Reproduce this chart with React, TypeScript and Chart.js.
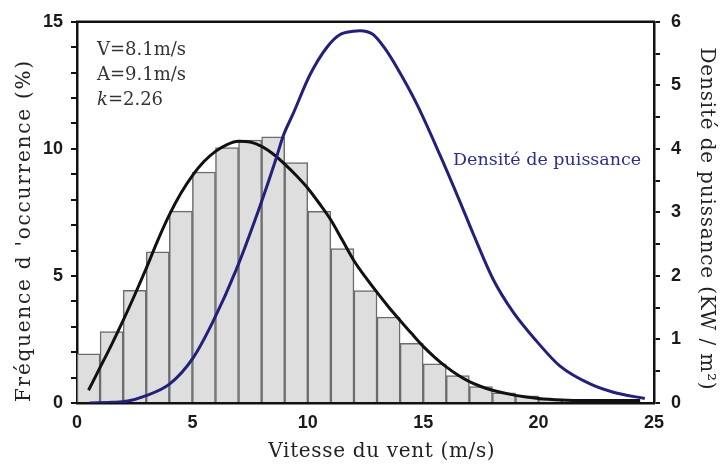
import React, { useEffect, useRef } from 'react';
import { Chart, registerables } from 'chart.js';

Chart.register(...registerables);

// Histogram bins (bin centres, m/s) and frequencies (%)
const binCenters = [0.5, 1.5, 2.5, 3.5, 4.5, 5.5, 6.5, 7.5, 8.5, 9.5, 10.5, 11.5, 12.5, 13.5, 14.5, 15.5, 16.5, 17.5, 18.5, 19.5, 20.5, 21.5, 22.5, 23.5];
const frequency = [1.93, 2.81, 4.43, 5.95, 7.55, 9.09, 10.05, 10.35, 10.47, 9.46, 7.54, 6.08, 4.42, 3.38, 2.35, 1.54, 1.08, 0.65, 0.4, 0.28, 0.15, 0.12, 0.1, 0.08];

// Weibull fit curve (black)
const weibullSpeed = [0.5, 1, 1.5, 2, 2.5, 3, 3.5, 4, 4.5, 5, 5.5, 6, 6.5, 7, 7.5, 8, 8.5, 9, 9.5, 10, 10.5, 11, 11.5, 12, 12.5, 13, 13.5, 14, 14.5, 15, 15.5, 16, 16.5, 17, 17.5, 18, 19, 20, 21, 22, 23, 24.4];
const weibullFreq = [0.5, 1.4, 2.3, 3.25, 4.25, 5.3, 6.4, 7.4, 8.25, 8.95, 9.5, 9.9, 10.17, 10.3, 10.27, 10.1, 9.8, 9.4, 8.95, 8.45, 7.85, 7.2, 6.4, 5.6, 4.95, 4.35, 3.78, 3.25, 2.73, 2.23, 1.8, 1.42, 1.1, 0.84, 0.65, 0.5, 0.3, 0.18, 0.12, 0.1, 0.1, 0.1];

// Power density curve (blue, kW/m²)
const powerSpeed = [0.55, 1.5, 2.2, 2.87, 4.02, 5.03, 5.89, 6.9, 7.9, 8.62, 8.93, 9.36, 10.1, 10.83, 11.4, 11.96, 12.26, 12.83, 13.34, 13.86, 14.73, 15.73, 16.59, 17.17, 18.04, 18.9, 19.92, 20.93, 22.23, 23.24, 24.6];
const powerDensity = [0.0, 0.01, 0.03, 0.1, 0.3, 0.71, 1.28, 2.1, 3.07, 3.84, 4.2, 4.55, 5.17, 5.6, 5.8, 5.85, 5.86, 5.8, 5.58, 5.28, 4.7, 3.9, 3.17, 2.66, 1.94, 1.43, 0.97, 0.58, 0.3, 0.17, 0.07];

const xTicks = [0, 5, 10, 15, 20, 25];
const annotations = ['V=8.1m/s', 'A=9.1m/s'];
const kLabel = '=2.26';
const seriesLabel = 'Densité de puissance';
const xTitle = 'Vitesse du vent (m/s)';
const yTitle = "Fréquence d 'occurrence (%)";
const y2Title = 'Densité de puissance (KW / m²)';

const SERIF = '"DejaVu Serif", "Liberation Serif", serif';
const SANS = '"Liberation Sans", Arial, sans-serif';
const NAVY = '#22207a';

function drawTitle(ctx: any, text: string, cx: number, cy: number, rot: number, span: number) {
  ctx.save();
  ctx.font = `20px ${SERIF}`;
  ctx.letterSpacing = '0px';
  const w = ctx.measureText(text).width;
  const sp = Math.max(0, (span - w) / text.length);
  ctx.letterSpacing = `${sp}px`;
  ctx.translate(cx, cy);
  ctx.rotate(rot);
  ctx.textAlign = 'center';
  ctx.textBaseline = 'middle';
  ctx.fillText(text, sp / 2, 0);
  ctx.restore();
}

const textPlugin = {
  id: 'textPlugin',
  afterDraw(chart: any) {
    const { ctx, chartArea } = chart;
    ctx.save();
    // top frame line
    ctx.strokeStyle = '#111';
    ctx.lineWidth = 2.5;
    ctx.beginPath();
    ctx.moveTo(chartArea.left - 1, chartArea.top);
    ctx.lineTo(chartArea.right + 1, chartArea.top);
    ctx.stroke();

    // statistics annotation
    ctx.fillStyle = '#333';
    ctx.textBaseline = 'middle';
    ctx.textAlign = 'left';
    ctx.font = `18px ${SERIF}`;
    ctx.fillText(annotations[0], 97, 50);
    ctx.fillText(annotations[1], 97, 75);
    ctx.font = `italic 18px ${SERIF}`;
    ctx.fillText('k', 97, 100);
    const kw = ctx.measureText('k').width;
    ctx.font = `18px ${SERIF}`;
    ctx.fillText(kLabel, 97 + kw, 100);

    // series label
    ctx.fillStyle = '#2f2d8c';
    ctx.font = `17.5px ${SERIF}`;
    ctx.fillText(seriesLabel, 453, 160);

    // axis titles
    ctx.fillStyle = '#222';
    drawTitle(ctx, xTitle, 381.5, 452, 0, 227);
    drawTitle(ctx, yTitle, 25, 231.5, -Math.PI / 2, 343);
    drawTitle(ctx, y2Title, 706, 218.5, Math.PI / 2, 343);

    ctx.restore();
  },
};

export default function App() {
  const canvasRef = useRef<HTMLCanvasElement | null>(null);

  useEffect(() => {
    const canvas = canvasRef.current;
    if (!canvas) return;
    const chart = new Chart(canvas, {
      type: 'bar',
      data: {
        datasets: [
          {
            type: 'line',
            label: 'Puissance',
            data: powerSpeed.map((x, i) => ({ x, y: powerDensity[i] })),
            xAxisID: 'x',
            yAxisID: 'y2',
            borderColor: NAVY,
            borderWidth: 3,
            pointRadius: 0,
            fill: false,
            cubicInterpolationMode: 'monotone',
            order: 0,
          } as any,
          {
            type: 'line',
            label: 'Weibull',
            data: weibullSpeed.map((x, i) => ({ x, y: weibullFreq[i] })),
            xAxisID: 'x',
            yAxisID: 'y',
            borderColor: '#111',
            borderWidth: 3,
            pointRadius: 0,
            fill: false,
            cubicInterpolationMode: 'monotone',
            order: 1,
          } as any,
          {
            type: 'bar',
            label: 'Fréquence',
            data: binCenters.map((x, i) => ({ x, y: frequency[i] })),
            xAxisID: 'x',
            yAxisID: 'y',
            backgroundColor: '#dedede',
            borderColor: '#6c6c6c',
            borderWidth: 1.5,
            barPercentage: 1,
            categoryPercentage: 1,
            order: 2,
          } as any,
        ],
      },
      options: {
        animation: false,
        responsive: false,
        maintainAspectRatio: false,
        layout: { padding: { top: 13, left: 0, right: 0, bottom: 0 } },
        plugins: { legend: { display: false }, tooltip: { enabled: false } },
        scales: {
          x: {
            type: 'linear',
            min: 0,
            max: 25,
            offset: false,
            afterBuildTicks: (s: any) => {
              s.ticks = xTicks.map((v) => ({ value: v }));
            },
            ticks: {
              font: { family: SANS, weight: 'bold', size: 18 },
              color: '#1a1a1a',
              padding: 9,
              maxRotation: 0,
              autoSkip: false,
            },
            grid: { display: false, drawTicks: false },
            border: { display: true, color: '#111', width: 2.5 },
            afterFit: (s: any) => {
              s.height = 63;
            },
          },
          y: {
            type: 'linear',
            position: 'left',
            min: 0,
            max: 15,
            ticks: {
              stepSize: 1,
              autoSkip: false,
              callback: (v: any) => (v % 5 === 0 ? String(v) : ''),
              font: { family: SANS, weight: 'bold', size: 18 },
              color: '#1a1a1a',
              padding: 8,
            },
            grid: { drawOnChartArea: false, drawTicks: true, tickLength: 6, color: '#111', lineWidth: 2 },
            border: { display: true, color: '#111', width: 2.5 },
            afterFit: (s: any) => {
              s.width = 77;
            },
          },
          y2: {
            type: 'linear',
            position: 'right',
            min: 0,
            max: 6,
            ticks: {
              stepSize: 0.5,
              autoSkip: false,
              callback: (v: any) => (Number.isInteger(v) ? String(v) : ''),
              font: { family: SANS, weight: 'bold', size: 18 },
              color: '#1a1a1a',
              padding: 11,
            },
            grid: { drawOnChartArea: false, drawTicks: true, tickLength: 6, color: '#111', lineWidth: 2 },
            border: { display: true, color: '#111', width: 2.5 },
            afterFit: (s: any) => {
              s.width = 66;
            },
          },
        },
      } as any,
      plugins: [textPlugin],
    });
    return () => chart.destroy();
  }, []);

  return (
    <div style={{ position: 'absolute', left: 0, top: 0, width: 720, height: 466, background: '#fff' }}>
      <canvas ref={canvasRef} width={720} height={466} />
    </div>
  );
}
